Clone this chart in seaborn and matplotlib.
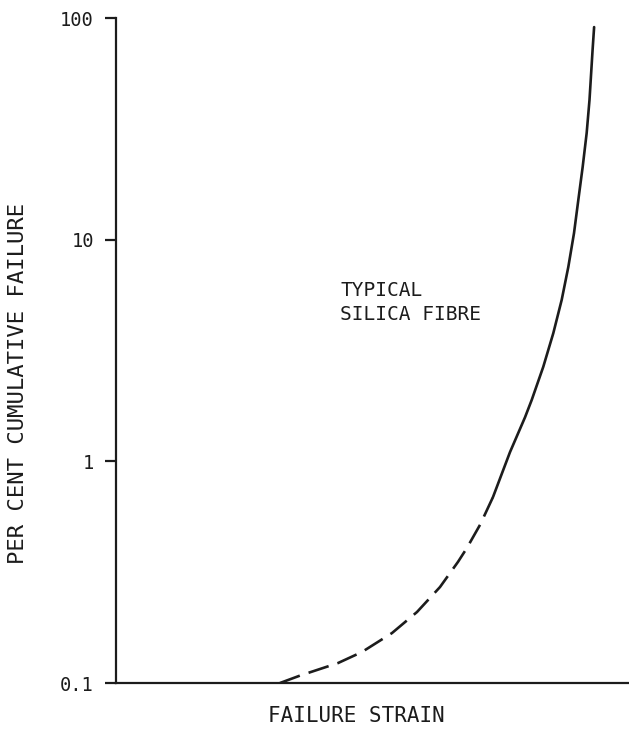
import matplotlib
matplotlib.use("Agg")
import matplotlib.pyplot as plt
import seaborn as sns
import pandas as pd

# Data (x in arbitrary strain units 0-100)
strain_solid = [73.49, 76.80, 79.73, 81.03, 83.29, 85.25, 86.88, 88.17,
                89.28, 90.12, 90.97, 91.75, 92.30, 92.90, 93.20]
pct_solid = [0.69, 1.10, 1.58, 1.89, 2.67, 3.79, 5.35, 7.53,
             10.7, 15.1, 21.3, 30.3, 42.7, 71.7, 91.0]
strain_dashed = [31.97, 35.87, 43.27, 47.95, 53.80, 58.67, 63.16, 66.67,
                 68.36, 71.00, 73.49]
pct_dashed = [0.100, 0.108, 0.123, 0.138, 0.168, 0.209, 0.271, 0.352,
              0.405, 0.519, 0.69]
ytick_vals = [0.1, 1, 10, 100]
ytick_labels = ["0.1", "1", "10", "100"]

sns.set_theme(style="white")
plt.rcParams['font.family'] = ['DejaVu Sans Mono', 'DejaVu Sans']

ink = "#1c1c1c"
fig = plt.figure(figsize=(6.29, 7.29), dpi=100)
ax = fig.add_axes([0.1844, 0.0631, 0.8156, 0.9122])

df_s = pd.DataFrame({"strain": strain_solid, "pct": pct_solid})
df_d = pd.DataFrame({"strain": strain_dashed, "pct": pct_dashed})
sns.lineplot(data=df_s, x="strain", y="pct", ax=ax, color=ink, lw=1.9, sort=False)
sns.lineplot(data=df_d, x="strain", y="pct", ax=ax, color=ink, lw=1.9, sort=False,
             dashes=False, linestyle=(0, (8, 3.5)))

ax.set_yscale("log")
ax.set_ylim(0.1, 100)
ax.set_xlim(0, 100)
ax.set_yticks(ytick_vals)
ax.set_yticklabels(ytick_labels)
ax.minorticks_off()
ax.set_xticks([])

for s in ["top", "right"]:
    ax.spines[s].set_visible(False)
for s in ["left", "bottom"]:
    ax.spines[s].set_color(ink)
    ax.spines[s].set_linewidth(1.6)

ax.tick_params(axis="y", direction="out", length=8, width=1.6, color=ink,
               labelsize=13.5, pad=8, left=True, labelcolor=ink)

ax.set_xlabel("FAILURE STRAIN", fontsize=15, color=ink)
ax.set_ylabel("PER CENT CUMULATIVE FAILURE", fontsize=16, color=ink)
ax.xaxis.set_label_coords(0.468, -0.034)
ax.yaxis.set_label_coords(-0.172, 0.451)

ax.text(43.7, 6.5, "TYPICAL\nSILICA FIBRE", fontsize=14, color=ink,
        ha="left", va="top", linespacing=1.3)

fig.savefig("out.png", dpi=100)
